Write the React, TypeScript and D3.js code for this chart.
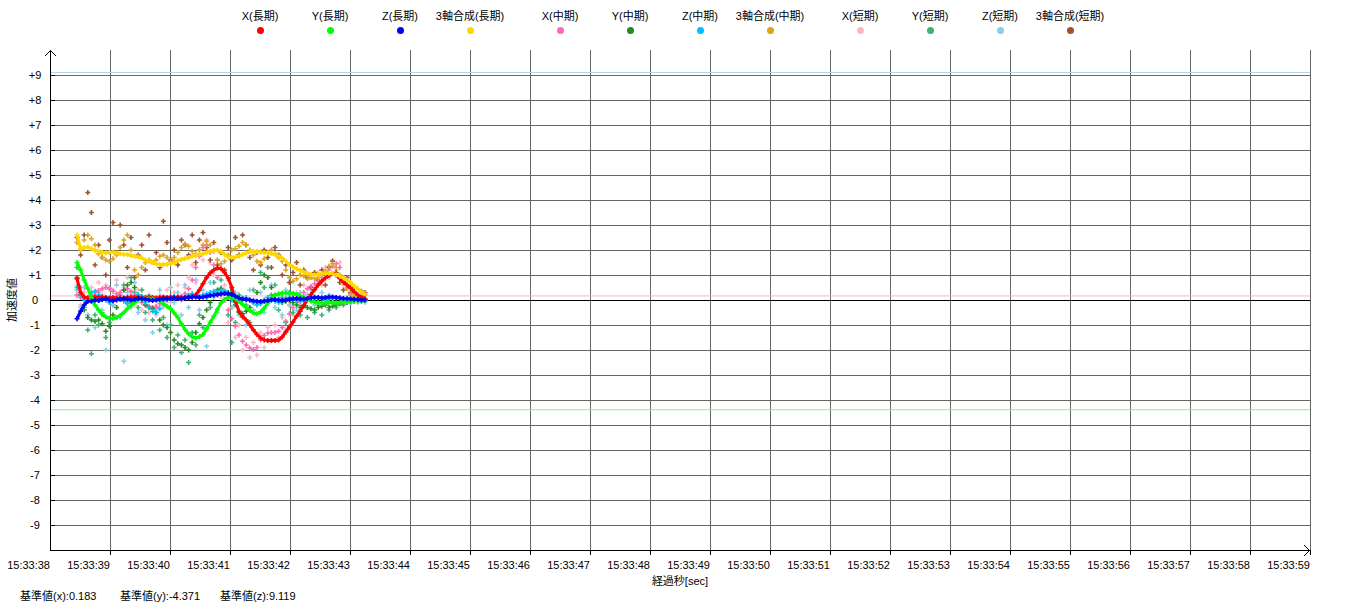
import React from "react";
import * as d3 from "d3";

// time stamps in seconds after 15:33:00
const TIMES = [
  38.45, 38.51, 38.57, 38.63, 38.69, 38.75, 38.81, 38.87, 38.93, 38.99,
  39.05, 39.11, 39.17, 39.23, 39.29, 39.35, 39.41, 39.47, 39.53, 39.59,
  39.65, 39.71, 39.77, 39.83, 39.89, 39.95, 40.01, 40.07, 40.13, 40.19,
  40.25, 40.31, 40.37, 40.43, 40.49, 40.55, 40.61, 40.67, 40.73, 40.79,
  40.85, 40.91, 40.97, 41.03, 41.09, 41.15, 41.21, 41.27, 41.33, 41.39,
  41.45, 41.51, 41.57, 41.63, 41.69, 41.75, 41.81, 41.87, 41.93, 41.99,
  42.05, 42.11, 42.17, 42.23, 42.29, 42.35, 42.41, 42.47, 42.53, 42.59,
  42.65, 42.71, 42.77, 42.83, 42.89, 42.95, 43.01, 43.07, 43.13, 43.19,
  43.25,
];

const X_LONG = [
  0.85, 0.3, 0.12, 0.08, 0.1, 0.12, 0.1, 0.12, 0.1, 0.08,
  0.1, 0.08, 0.06, 0.08, 0.1, 0.12, 0.1, 0.1, 0.08, 0.1,
  0.12, 0.1, 0.08, 0.1, 0.12, 0.1, 0.12, 0.1, 0.12, 0.1,
  0.1, 0.12, 0.12, 0.2, 0.4, 0.65, 0.9, 1.08, 1.2, 1.28,
  1.25, 1.1, 0.88, 0.5, -0.05, -0.45, -0.65, -0.8, -1.0, -1.2,
  -1.38, -1.52, -1.6, -1.62, -1.62, -1.62, -1.6, -1.48, -1.28, -1.08,
  -0.88, -0.65, -0.45, -0.22, 0.0, 0.22, 0.42, 0.6, 0.75, 0.88,
  0.98, 1.05, 1.0, 0.86, 0.72, 0.6, 0.48, 0.34, 0.2, 0.1,
  0.06,
];
const Y_LONG = [
  1.5, 1.2, 0.8, 0.45, 0.1, -0.2, -0.4, -0.58, -0.68, -0.73,
  -0.74, -0.7, -0.62, -0.5, -0.35, -0.22, -0.1, 0.0, 0.05, 0.06,
  0.05, 0.04, 0.02, -0.05, -0.15, -0.25, -0.35, -0.52, -0.7, -0.95,
  -1.18, -1.35, -1.47, -1.52, -1.47, -1.38, -1.15, -0.9, -0.65, -0.38,
  -0.12, 0.02, 0.1, 0.12, 0.05, -0.05, -0.18, -0.3, -0.42, -0.52,
  -0.55, -0.48, -0.33, -0.12, 0.05, 0.18, 0.25, 0.28, 0.28, 0.27,
  0.26, 0.22, 0.18, 0.1, 0.02, -0.05, -0.08, -0.1, -0.12, -0.12,
  -0.1, -0.1, -0.12, -0.1, -0.08, -0.06, -0.05, -0.04, -0.03, -0.02,
  -0.02,
];
const Z_LONG = [
  -0.75, -0.45, -0.2, -0.05, -0.05, 0.0, -0.02, 0.02, 0.05, 0.0,
  -0.03, 0.0, 0.03, 0.06, 0.04, 0.0, 0.02, 0.06, 0.05, 0.03,
  0.0, -0.02, 0.0, 0.03, 0.05, 0.05, 0.06, 0.08, 0.06, 0.05,
  0.08, 0.1, 0.12, 0.12, 0.1, 0.12, 0.15, 0.18, 0.2, 0.22,
  0.24, 0.26, 0.25, 0.22, 0.15, 0.08, 0.04, 0.02, 0.0, -0.03,
  -0.05, -0.06, -0.05, -0.02, 0.0, 0.02, 0.0, -0.02, 0.0, 0.03,
  0.05, 0.06, 0.05, 0.04, 0.06, 0.08, 0.1, 0.1, 0.08, 0.1,
  0.12, 0.12, 0.1, 0.08, 0.06, 0.05, 0.04, 0.03, 0.02, 0.0,
  0.0,
];
const SUM_LONG = [
  2.6, 2.05, 2.1, 2.12, 2.05, 1.98, 1.95, 1.9, 1.88, 1.9,
  1.92, 1.88, 1.85, 1.83, 1.82, 1.78, 1.75, 1.72, 1.68, 1.6,
  1.55, 1.5, 1.45, 1.42, 1.42, 1.43, 1.45, 1.5, 1.58, 1.62,
  1.66, 1.7, 1.75, 1.78, 1.82, 1.85, 1.9, 1.95, 1.98, 2.0,
  1.95, 1.82, 1.72, 1.7, 1.72, 1.75, 1.82, 1.88, 1.93, 1.95,
  1.94, 1.92, 1.9, 1.88, 1.86, 1.82, 1.75, 1.68, 1.55, 1.42,
  1.32, 1.25, 1.18, 1.12, 1.06, 1.02, 1.0, 1.02, 1.05, 1.07,
  1.07, 1.05, 1.0, 0.95, 0.88, 0.8, 0.7, 0.55, 0.45, 0.32,
  0.25,
];

const X_MID = [
  0.2, 0.1, 0.05, 0.1, 0.2, 0.3, 0.38, 0.45, 0.5, 0.45,
  0.35, 0.25, 0.3, 0.4, 0.45, 0.35, 0.2, 0.05, -0.1, -0.2,
  -0.25, -0.3, -0.25, -0.15, -0.05, 0.0, 0.05, 0.1, 0.12, 0.15,
  0.25, 0.45, 0.8, 1.3, 1.75, 2.1, 2.2, 1.9, 1.4, 0.9,
  0.35, 0.0, -0.4, -0.75, -1.05, -1.4, -1.65, -1.8, -1.92, -1.98,
  -1.9, -1.6, -1.42, -1.32, -1.3, -1.3, -1.25, -1.1, -0.85, -0.55,
  -0.3, -0.1, 0.1, 0.3, 0.45, 0.55, 0.65, 0.75, 0.9, 1.05,
  1.2, 1.35, 1.45, 1.3, 0.9, 0.5, 0.2, 0.05, -0.05, -0.05,
  -0.02,
];
const Y_MID = [
  0.9, 0.2, -0.4, -0.7, -0.8, -0.85, -0.8, -0.95, -1.25, -1.05,
  -0.6, -0.3, 0.1, 0.4, 0.6, 0.7, 0.5, 0.2, 0.0, -0.2,
  -0.3, -0.35, -0.5, -0.8, -1.0, -1.1, -1.3, -1.6, -1.75, -1.8,
  -1.9, -2.0, -1.7, -1.3, -0.95, -0.7, -0.4, -0.1, 0.2, 0.4,
  0.45, 0.35, 0.3, 0.1, -0.2, -0.5, -0.55, -0.45, -0.3, -0.1,
  0.3, 0.7, 1.0, 0.9, 0.5, 0.2, 0.0, -0.1, -0.05, 0.0,
  -0.1, -0.2, -0.3, -0.25, -0.3, -0.35, -0.4, -0.3, -0.25, -0.2,
  -0.3, -0.25, -0.2, -0.15, -0.1, -0.1, -0.05, -0.05, 0.0, 0.0,
  0.0,
];
const Z_MID = [
  0.5, 0.2, 0.0, 0.1, 0.3, 0.35, 0.2, 0.1, 0.0, -0.1,
  0.0, 0.1, 0.05, -0.05, -0.15, -0.05, 0.1, 0.2, 0.15, -0.1,
  -0.3, -0.45, -0.5, -0.35, -0.15, 0.0, 0.1, 0.15, 0.1, 0.05,
  0.1, 0.2, 0.25, 0.2, 0.15, 0.2, 0.25, 0.3, 0.35, 0.3,
  0.4, 0.35, 0.2, 0.0, -0.1, -0.05, 0.05, 0.1, 0.0, -0.1,
  -0.2, -0.15, 0.0, 0.1, 0.05, -0.05, -0.1, -0.05, 0.05, 0.1,
  0.05, 0.0, -0.05, 0.0, 0.05, 0.1, 0.12, 0.08, 0.05, 0.0,
  0.05, 0.08, 0.1, 0.05, 0.0, 0.02, 0.05, 0.02, 0.0, 0.0,
  0.0,
];
const SUM_MID = [
  2.3, 2.0, 2.4, 2.6, 2.45, 2.2, 1.85, 1.7, 1.6, 1.55,
  1.65, 1.8, 2.1, 2.4, 2.6, 2.0, 1.2, 1.0, 1.3, 1.5,
  1.6, 1.5, 1.6, 1.75, 1.8, 1.7, 1.55, 1.7, 1.9, 2.1,
  2.25, 2.15, 1.95, 1.85, 2.0, 2.2, 2.35, 2.2, 1.95, 1.6,
  1.45, 1.55, 1.8, 2.0, 2.05, 2.15, 2.3, 2.2, 2.0, 1.8,
  1.55, 1.5, 1.65, 1.9, 2.0, 1.85, 1.7, 1.55, 1.2, 0.9,
  0.75, 0.85, 1.0, 0.95, 0.85, 0.9, 0.85, 0.9, 1.0, 1.15,
  1.35, 1.45, 1.3, 1.0, 0.7, 0.45, 0.25, 0.15, 0.1, 0.15,
  0.2,
];

const X_SHORT = [
  0.6, -0.2, 0.3, -0.6, 0.5, 0.1, 0.7, 0.2, 0.6, -0.1,
  0.4, 0.8, 0.1, 0.5, 0.9, 0.2, -0.2, 0.4, -0.4, 0.1,
  -0.5, 0.0, -0.6, 0.2, -0.3, 0.4, -0.1, 0.3, 0.6, 0.0,
  0.5, 0.9, 1.4, 0.7, 2.0, 1.6, 2.4, 1.5, 1.0, 1.6,
  0.1, 0.6, -0.9, -0.3, -1.5, -1.0, -2.0, -1.5, -2.3, -1.7,
  -2.2, -1.3, -1.9, -1.1, -1.6, -1.0, -1.5, -0.7, -1.2, -0.2,
  -0.6, 0.3, -0.2, 0.6, 0.2, 0.9, 0.4, 1.1, 0.6, 1.3,
  0.9, 1.6, 1.2, 1.5, 0.6, 0.9, 0.1, 0.3, -0.1, 0.1,
  -0.05,
];
const Y_SHORT = [
  1.3, 0.5, -0.3, -1.2, -2.15, -0.6, -1.0, -0.5, -1.5, -0.9,
  -0.2, -0.7, 0.2, 0.6, -0.1, 0.9, 0.3, -0.3, 0.4, -0.5,
  0.1, -0.8, -0.3, -1.2, -0.7, -1.5, -1.0, -1.9, -1.4, -2.1,
  -1.6, -2.5, -1.3, -1.8, -0.6, -1.1, 0.1, -0.3, 0.7, 0.2,
  0.8, 0.0, -0.6, -1.7, -0.9, 0.2, -0.7, -0.2, -0.9, 0.4,
  -0.1, 1.1, 0.5, 1.3, 0.2, 0.6, -0.4, 0.1, -0.9, 0.3,
  -0.5, 0.0, -0.6, -0.2, -0.7, 0.1, -0.5, -0.2, -0.6, 0.0,
  -0.4, -0.1, -0.3, 0.1, -0.2, 0.0, -0.1, 0.0, -0.05, 0.0,
  0.0,
];
const Z_SHORT = [
  0.4, -0.3, 0.5, -0.6, 0.2, -1.1, 0.3, -0.4, -2.0, 0.5,
  -0.2, 0.6, -0.7, -2.45, 0.3, -0.3, 0.7, -0.5, 0.1, -0.8,
  0.2, -1.3, -0.4, 0.4, -0.2, -1.0, 0.5, -0.1, 0.3, -0.6,
  0.6, -0.3, 0.2, 0.8, -0.4, 0.4, -1.85, 0.7, 0.1, -0.5,
  0.5, 0.0, 0.8, -0.3, 0.3, -0.6, 0.1, -1.0, 0.4, -0.4,
  -0.2, 0.3, -0.5, 0.1, 0.6, -0.3, 0.2, -0.6, 0.4, -0.2,
  0.2, -0.4, 0.3, -0.1, 0.2, 0.4, -0.2, 0.1, 0.3, -0.1,
  0.2, 0.05, -0.2, 0.1, 0.0, 0.1, -0.1, 0.05, 0.0, -0.05,
  -0.1,
];
const SUM_SHORT = [
  2.5, 1.8, 2.6, 4.3, 3.5, 1.4, 2.2, 1.7, 1.0, 2.4,
  3.1, 1.9, 3.0, 2.2, 1.3, 2.5, 0.9, 1.8, 2.2, 1.2,
  2.6, 1.5, 1.9, 1.3, 3.15, 2.3, 1.6, 2.0, 1.4, 2.4,
  2.2, 1.8, 2.6, 1.5, 2.4, 2.7, 2.1, 1.6, 2.3, 1.4,
  1.9, 1.2, 2.1, 1.6, 2.5, 1.8, 2.6, 2.2, 1.7, 1.2,
  1.9, 1.4, 2.0, 1.7, 1.3, 2.1, 1.8, 1.0, 1.4, 0.7,
  1.1, 1.5, 0.6, 1.2, 0.9, 0.5, 1.1, 0.8, 1.2, 0.6,
  1.3, 1.55, 1.1, 0.7, 0.4, 0.9, 0.3, 0.5, 0.2, 0.35,
  0.3,
];

const SERIES_NAMES = [
  "X(長期)", "Y(長期)", "Z(長期)", "3軸合成(長期)",
  "X(中期)", "Y(中期)", "Z(中期)", "3軸合成(中期)",
  "X(短期)", "Y(短期)", "Z(短期)", "3軸合成(短期)",
];
const SERIES_COLORS = [
  "#ff0000", "#00ff00", "#0000ff", "#ffd700",
  "#ff69b4", "#228b22", "#00bfff", "#daa520",
  "#ffb6c1", "#3cb371", "#87ceeb", "#a0522d",
];
const SERIES_VALUES = [
  X_LONG, Y_LONG, Z_LONG, SUM_LONG,
  X_MID, Y_MID, Z_MID, SUM_MID,
  X_SHORT, Y_SHORT, Z_SHORT, SUM_SHORT,
];

const X_TICK_SECONDS = [
  38, 39, 40, 41, 42, 43, 44, 45, 46, 47, 48,
  49, 50, 51, 52, 53, 54, 55, 56, 57, 58, 59,
];
const X_TICK_LABELS = [
  "15:33:38", "15:33:39", "15:33:40", "15:33:41", "15:33:42", "15:33:43",
  "15:33:44", "15:33:45", "15:33:46", "15:33:47", "15:33:48", "15:33:49",
  "15:33:50", "15:33:51", "15:33:52", "15:33:53", "15:33:54", "15:33:55",
  "15:33:56", "15:33:57", "15:33:58", "15:33:59",
];
const Y_TICK_VALUES = [9, 8, 7, 6, 5, 4, 3, 2, 1, 0, -1, -2, -3, -4, -5, -6, -7, -8, -9];
const Y_TICK_LABELS = ["+9", "+8", "+7", "+6", "+5", "+4", "+3", "+2", "+1", "0", "-1", "-2", "-3", "-4", "-5", "-6", "-7", "-8", "-9"];

const BASE_NAMES = ["x", "y", "z"];
const BASE_VALUES = [0.183, -4.371, 9.119];
const BASE_COLORS = ["#ffb6c1", "#90ee90", "#add8e6"];

const W = 1350;
const H = 610;
const FONT = "'Liberation Sans', 'Noto Sans CJK JP', sans-serif";

export default function App() {
  const xs = d3.scaleLinear().domain([38, 59]).range([50, 1310]);
  const ys = d3.scaleLinear().domain([-10, 10]).range([550, 50]);
  const line = d3
    .line<number>()
    .x((_, i) => xs(TIMES[i]))
    .y((v) => ys(v));

  // draw short first, then mid, then long on top
  const order = [8, 9, 10, 11, 4, 5, 6, 7, 0, 1, 2, 3];
  const cross = "M-2.5,0H2.5M0,-2.5V2.5";

  return (
    <svg
      width={W}
      height={H}
      style={{ position: "absolute", left: 0, top: 0, background: "#fff" }}
      fontFamily={FONT}
    >
      {/* vertical grid */}
      {X_TICK_SECONDS.slice(1).map((s) => (
        <line key={"vg" + s} x1={xs(s) + 0.5} x2={xs(s) + 0.5} y1={50} y2={550} stroke="#666" strokeWidth={1} />
      ))}
      {/* horizontal grid */}
      {Y_TICK_VALUES.filter((v) => v !== 0).map((v) => (
        <line key={"hg" + v} x1={50} x2={1310} y1={ys(v) + 0.5} y2={ys(v) + 0.5} stroke="#666" strokeWidth={1} />
      ))}
      {/* base value lines */}
      {BASE_VALUES.map((b, i) => (
        <line key={"base" + BASE_NAMES[i]} x1={50} x2={1310} y1={ys(b) + 0.5} y2={ys(b) + 0.5} stroke={BASE_COLORS[i]} strokeWidth={1} />
      ))}
      {/* zero line */}
      <line x1={50} x2={1310} y1={ys(0) + 0.5} y2={ys(0) + 0.5} stroke="#000" strokeWidth={1} />

      {/* series */}
      {order.map((si) => {
        const vals = SERIES_VALUES[si];
        const col = SERIES_COLORS[si];
        const isLong = si < 4;
        return (
          <g key={"s" + si}>
            {isLong && (
              <path d={line(vals) || ""} fill="none" stroke={col} strokeWidth={3} strokeLinejoin="round" />
            )}
            {vals.map((v, i) => (
              <path
                key={i}
                d={cross}
                transform={`translate(${xs(TIMES[i])},${ys(v)})`}
                stroke={col}
                strokeWidth={1.6}
                fill="none"
              />
            ))}
          </g>
        );
      })}

      {/* y axis */}
      <line x1={50.5} x2={50.5} y1={50} y2={550} stroke="#000" strokeWidth={1} />
      <path d="M45,56L50.5,50.5L56,56" fill="none" stroke="#000" strokeWidth={1} />
      {Y_TICK_VALUES.map((v, i) => (
        <g key={"yt" + v}>
          <line x1={50} x2={55} y1={ys(v) + 0.5} y2={ys(v) + 0.5} stroke="#000" />
          <text x={35} y={ys(v) + 4} fontSize={11} textAnchor="middle" fill="#000">
            {Y_TICK_LABELS[i]}
          </text>
        </g>
      ))}
      <text
        transform={`translate(16,${ys(0)}) rotate(-90)`}
        fontSize={11}
        textAnchor="middle"
        fill="#000"
      >
        加速度値
      </text>

      {/* x axis */}
      <line x1={50} x2={1310} y1={550.5} y2={550.5} stroke="#000" strokeWidth={1} />
      <path d="M1304,545L1309.5,550.5L1304,556" fill="none" stroke="#000" strokeWidth={1} />
      {X_TICK_SECONDS.map((s, i) => (
        <g key={"xt" + s}>
          {i > 0 && <line x1={xs(s) + 0.5} x2={xs(s) + 0.5} y1={550} y2={555} stroke="#000" />}
          <text x={xs(s)} y={569} fontSize={11} textAnchor="end" fill="#000">
            {X_TICK_LABELS[i]}
          </text>
        </g>
      ))}
      <text x={680} y={585} fontSize={11} textAnchor="middle" fill="#000">
        経過秒[sec]
      </text>

      {/* base values text */}
      {BASE_VALUES.map((b, i) => (
        <text key={"bt" + i} x={20 + 100 * i} y={600} fontSize={11} fill="#000">
          {`基準値(${BASE_NAMES[i]}):${b}`}
        </text>
      ))}

      {/* legend */}
      {SERIES_NAMES.map((n, i) => {
        const cx = 260 + 70 * (i % 4) + 300 * Math.floor(i / 4);
        return (
          <g key={"lg" + i}>
            <text x={cx} y={20} fontSize={11} textAnchor="middle" fill="#000">
              {n}
            </text>
            <circle cx={cx + 0.5} cy={30.5} r={3.5} fill={SERIES_COLORS[i]} />
          </g>
        );
      })}
    </svg>
  );
}
